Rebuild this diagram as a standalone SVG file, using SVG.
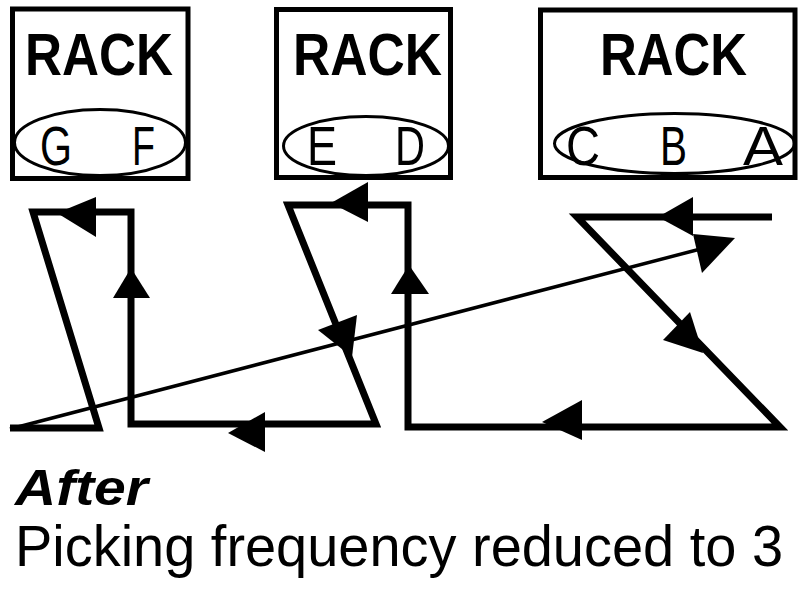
<svg xmlns="http://www.w3.org/2000/svg" width="798" height="589" viewBox="0 0 798 589">
<style>
.box{fill:#fff;stroke:#000;stroke-width:5}
.bin{fill:none;stroke:#000;stroke-width:3}
.title{font-family:"Liberation Sans",Arial,sans-serif;font-weight:bold;font-size:59px}
.slot{font-family:"Liberation Sans",Arial,sans-serif;font-size:56px}
.route{fill:none;stroke:#000;stroke-width:7;stroke-linejoin:miter}
.ret{fill:none;stroke:#000;stroke-width:3.5}
.head{fill:#000}
.cap{font-family:"Liberation Sans",Arial,sans-serif}
</style>
<rect width="798" height="589" fill="#fff"/>
<g id="rack-1">
<rect class="box" x="12.5" y="9" width="175.5" height="169.5"/>
<text class="title" x="25" y="75" textLength="148" lengthAdjust="spacingAndGlyphs">RACK</text>
<ellipse class="bin" cx="100" cy="142.5" rx="85.5" ry="33"/>
<text class="slot" x="40" y="165" textLength="32" lengthAdjust="spacingAndGlyphs">G</text>
<text class="slot" x="132" y="165" textLength="23" lengthAdjust="spacingAndGlyphs">F</text>
</g>
<g id="rack-2">
<rect class="box" x="276.5" y="9.5" width="174" height="168"/>
<text class="title" x="293" y="75" textLength="149" lengthAdjust="spacingAndGlyphs">RACK</text>
<ellipse class="bin" cx="366" cy="146" rx="82.5" ry="29.5"/>
<text class="slot" x="307" y="165" textLength="30" lengthAdjust="spacingAndGlyphs">E</text>
<text class="slot" x="395" y="165" textLength="30" lengthAdjust="spacingAndGlyphs">D</text>
</g>
<g id="rack-3">
<rect class="box" x="540.5" y="10" width="254.5" height="167.5"/>
<text class="title" x="600" y="75" textLength="147" lengthAdjust="spacingAndGlyphs">RACK</text>
<ellipse class="bin" cx="674.5" cy="143.5" rx="120" ry="30"/>
<text class="slot" x="566" y="165" textLength="34" lengthAdjust="spacingAndGlyphs">C</text>
<text class="slot" x="660" y="165" textLength="27" lengthAdjust="spacingAndGlyphs">B</text>
<text class="slot" x="743" y="165" textLength="40" lengthAdjust="spacingAndGlyphs">A</text>
</g>
<g id="connectors">
<path class="route" d="M772,217 L577,217 L780,427 L408,427 L408,205 L288,205 L376,424 L131,424 L131,212 L33,212 L99,428 L10,428"/>
<path class="ret" d="M10,429 L712,246"/>
<polygon class="head" points="57,213 96,197 96,237"/>
<polygon class="head" points="131,268 113,298 150,298"/>
<polygon class="head" points="228,433 265,412 265,452"/>
<polygon class="head" points="318,330 357,315 352,357"/>
<polygon class="head" points="331,203 368,182 368,222"/>
<polygon class="head" points="409,265 391,294 429,294"/>
<polygon class="head" points="542,422 582,400 582,440"/>
<polygon class="head" points="690,312 663,340 703,353"/>
<polygon class="head" points="658,217 693,197 693,236"/>
<polygon class="head" points="693,234 735,238 702,273"/>
</g>
<text class="cap" x="15" y="505" font-size="50" font-weight="bold" font-style="italic" textLength="133" lengthAdjust="spacingAndGlyphs">After</text>
<text class="cap" x="15" y="566" font-size="57" textLength="768" lengthAdjust="spacingAndGlyphs">Picking frequency reduced to 3</text>
</svg>
